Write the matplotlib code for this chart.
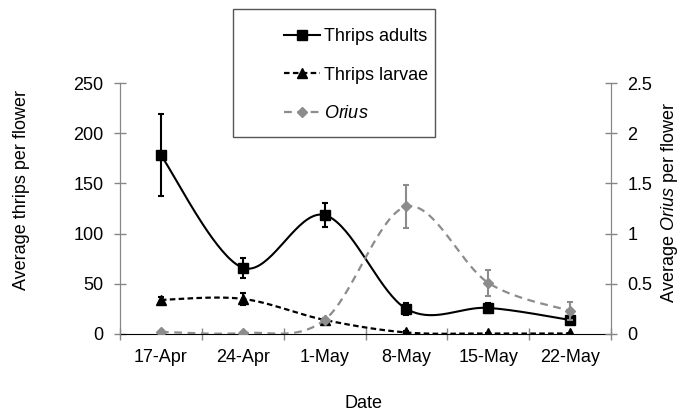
import numpy as np
import matplotlib
matplotlib.use('Agg')
import matplotlib.pyplot as plt
from matplotlib.patches import Rectangle
from matplotlib.lines import Line2D

plt.rcParams['font.family'] = ['Liberation Sans', 'DejaVu Sans']
plt.rcParams['mathtext.fontset'] = 'custom'
plt.rcParams['mathtext.rm'] = 'Liberation Sans'
plt.rcParams['mathtext.it'] = 'Liberation Sans:italic'

dates = ['17-Apr', '24-Apr', '1-May', '8-May', '15-May', '22-May']
adults = [178, 66, 118.5, 25, 26, 14]
adults_err = [41, 10, 12, 6, 5, 3]
larvae = [34, 35, 14, 1.5, 0.5, 0.5]
larvae_err = [3, 6, 2, 1, 0.5, 0.3]
orius = [0.02, 0.01, 0.14, 1.27, 0.51, 0.23]
orius_err = [0.01, 0.01, 0.02, 0.21, 0.13, 0.09]

left_ticks = [0, 50, 100, 150, 200, 250]
right_ticks = [0, 0.5, 1, 1.5, 2, 2.5]
right_labels = ['0', '0.5', '1', '1.5', '2', '2.5']

GRAY = '#8c8c8c'
SPINE = '#868686'
FS = 13


def smooth(yvals, sx, sy, n=40):
    """Excel-like smoothed curve (Catmull-Rom Bezier) computed in pixel-like space."""
    x = np.arange(len(yvals), dtype=float) * sx
    y = np.asarray(yvals, dtype=float) * sy
    P = np.column_stack([x, y])
    Pp = np.vstack([P[0], P, P[-1]])
    t = np.linspace(0, 1, n)[:, None]
    out = []
    for i in range(len(P) - 1):
        p0, p1, p2, p3 = Pp[i], Pp[i + 1], Pp[i + 2], Pp[i + 3]
        c1 = p1 + (p2 - p0) / 6.0
        c2 = p2 - (p3 - p1) / 6.0
        seg = ((1 - t) ** 3) * p1 + 3 * ((1 - t) ** 2) * t * c1 + 3 * (1 - t) * t ** 2 * c2 + t ** 3 * p2
        out.append(seg if i == 0 else seg[1:])
    out = np.vstack(out)
    return out[:, 0] / sx, out[:, 1] / sy


W, H = 683, 413
fig = plt.figure(figsize=(W / 100, H / 100), dpi=100)
ax = fig.add_axes([120 / W, 1 - 334 / H, (611 - 120) / W, (334 - 83) / H])
ax2 = ax.twinx()

xs = np.arange(len(dates))
px_x = 81.8
px_left = 251 / 250
px_right = 251 / 2.5

# Thrips adults
cx, cy = smooth(adults, px_x, px_left)
ax.plot(cx, cy, color='black', lw=1.5, zorder=3)
ax.errorbar(xs, adults, yerr=adults_err, fmt='none', ecolor='black', elinewidth=1.5,
            capsize=2, capthick=1.5, zorder=4)
ax.plot(xs, adults, 's', color='black', ms=6.5, zorder=5)

# Thrips larvae
cx, cy = smooth(larvae, px_x, px_left)
ax.plot(cx, cy, color='black', lw=1.6, ls=(0, (2.5, 1.5)), zorder=3)
ax.errorbar(xs, larvae, yerr=larvae_err, fmt='none', ecolor='black', elinewidth=1.5,
            capsize=2, capthick=1.5, zorder=4)
ax.plot(xs, larvae, '^', color='black', ms=6.5, zorder=5)

# Orius
cx, cy = smooth(orius, px_x, px_right)
ax2.plot(cx, cy, color=GRAY, lw=1.6, ls=(0, (3.5, 2.5)), zorder=3)
ax2.errorbar(xs, orius, yerr=orius_err, fmt='none', ecolor=GRAY, elinewidth=1.5,
             capsize=2, capthick=1.5, zorder=4)
ax2.plot(xs, orius, 'D', color=GRAY, ms=5, zorder=5)

ax.set_xlim(-0.5, len(dates) - 0.5)
ax.set_ylim(0, 250)
ax2.set_ylim(0, 2.5)

ax.set_xticks(np.arange(-0.5, len(dates), 1.0))
ax.set_xticklabels([])
ax.set_xticks(xs, minor=True)
ax.set_xticklabels(dates, minor=True, fontsize=FS)
ax.tick_params(axis='x', which='major', direction='inout', length=9, color=SPINE, width=1)
ax.tick_params(axis='x', which='minor', length=0, pad=11)

ax.set_yticks(left_ticks)
ax.set_yticklabels([str(v) for v in left_ticks], fontsize=FS)
ax.tick_params(axis='y', direction='inout', length=8.5, color=SPINE, width=1, pad=7.5)
ax2.set_yticks(right_ticks)
ax2.set_yticklabels(right_labels, fontsize=FS)
ax2.tick_params(axis='y', direction='inout', length=8.5, color=SPINE, width=1, pad=7.5)

for a in (ax, ax2):
    a.spines['top'].set_visible(False)
    a.spines['left'].set_color(SPINE)
    a.spines['right'].set_color(SPINE)
    a.spines['bottom'].set_color('black')
    a.patch.set_visible(False)
ax2.spines['bottom'].set_visible(False)

fig.text(364 / W, 1 - 404 / H, 'Date', ha='center', va='center', fontsize=FS)
fig.text(22 / W, 1 - 190 / H, 'Average thrips per flower', ha='center', va='center',
         rotation=90, fontsize=FS)
fig.text(670 / W, 1 - 203 / H, 'Average $\\it{Orius}$ per flower', ha='center', va='center',
         rotation=90, fontsize=FS)

# Legend
handles = [
    Line2D([], [], color='black', lw=1.5, marker='s', ms=6.5),
    Line2D([], [], color='black', lw=1.6, ls=(0, (2.5, 1.5)), marker='^', ms=6.5),
    Line2D([], [], color=GRAY, lw=1.6, ls=(0, (3.5, 2.5)), marker='D', ms=5),
]
labels = ['Thrips adults', 'Thrips larvae', '$\\it{Orius}$']
fig.legend(handles, labels, loc='center left', bbox_to_anchor=(284 / W, 1 - 75 / H),
           frameon=False, fontsize=FS, handlelength=2.0, handletextpad=0.2,
           labelspacing=1.2, borderpad=0, borderaxespad=0)
fig.patches.append(Rectangle((233 / W, 1 - 137 / H), (435 - 233) / W, (137 - 9) / H,
                             transform=fig.transFigure, fill=False, edgecolor='#555555',
                             lw=1, figure=fig))

fig.savefig('out.png', dpi=100)
